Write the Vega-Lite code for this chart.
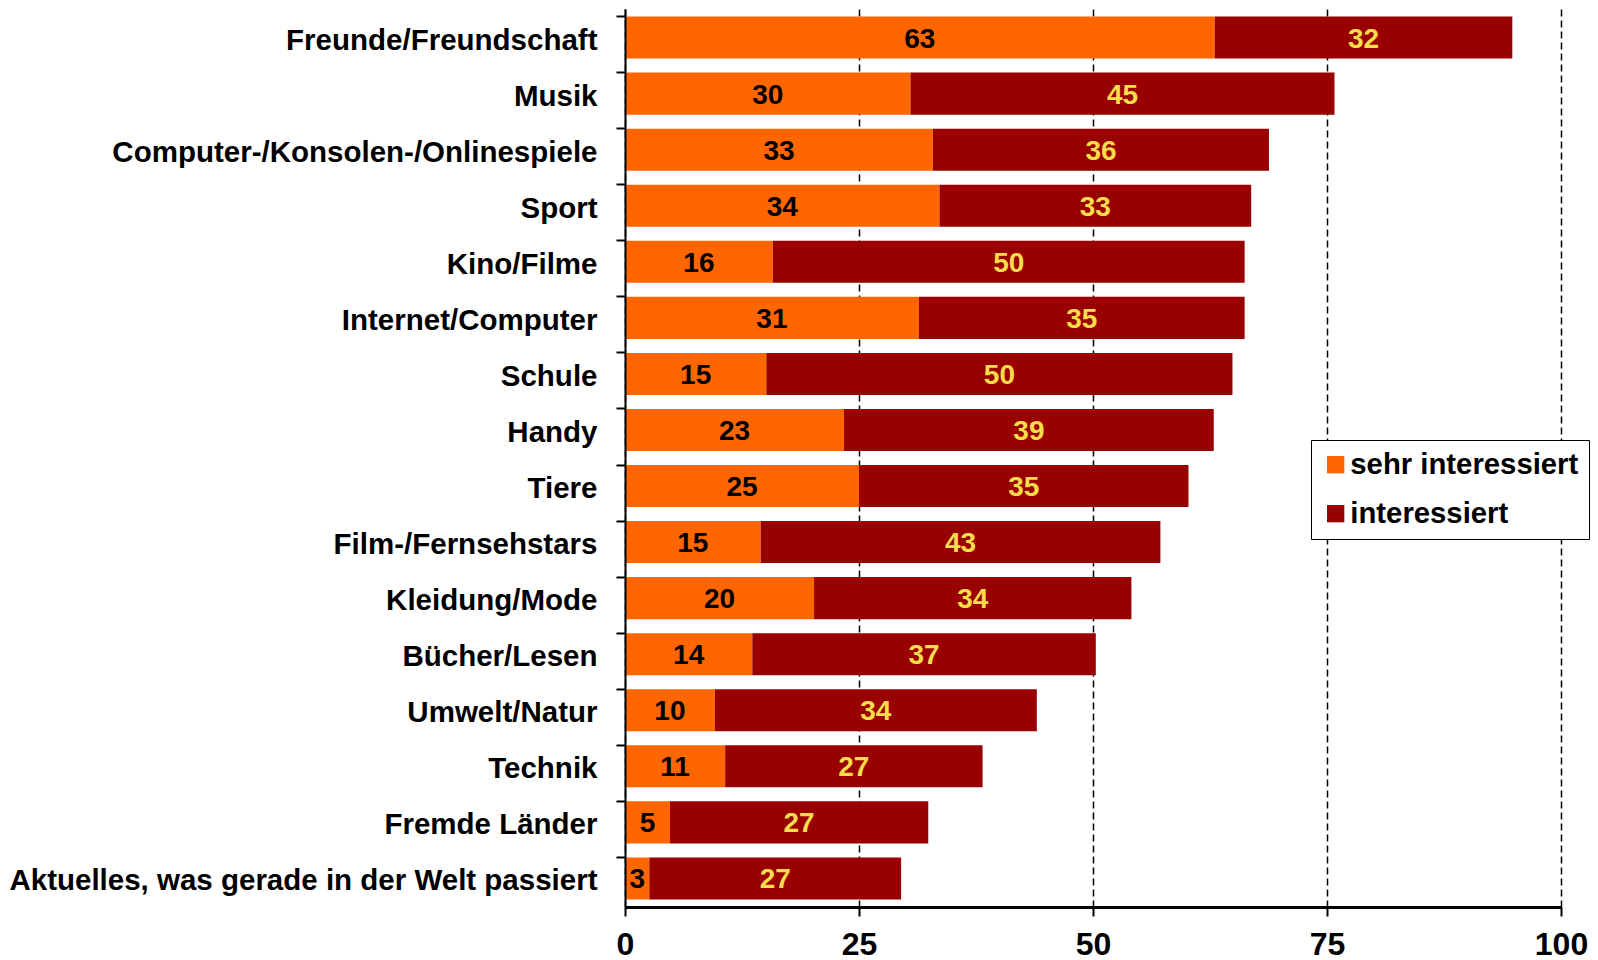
{
  "$schema": "https://vega.github.io/schema/vega-lite/v6.json",
  "width": 936,
  "height": 898,
  "autosize": {"type": "none"},
  "padding": {"left": 625, "top": 9, "right": 37, "bottom": 53},
  "background": "white",
  "config": {
    "view": {"stroke": null},
    "font": "Liberation Sans"
  },
  "data": {
    "values": [
      {"Thema": "Freunde/Freundschaft", "Stufe": "sehr interessiert", "Anteil": 63.0, "Label": 63},
      {"Thema": "Freunde/Freundschaft", "Stufe": "interessiert", "Anteil": 31.8, "Label": 32},
      {"Thema": "Musik", "Stufe": "sehr interessiert", "Anteil": 30.5, "Label": 30},
      {"Thema": "Musik", "Stufe": "interessiert", "Anteil": 45.3, "Label": 45},
      {"Thema": "Computer-/Konsolen-/Onlinespiele", "Stufe": "sehr interessiert", "Anteil": 32.9, "Label": 33},
      {"Thema": "Computer-/Konsolen-/Onlinespiele", "Stufe": "interessiert", "Anteil": 35.9, "Label": 36},
      {"Thema": "Sport", "Stufe": "sehr interessiert", "Anteil": 33.6, "Label": 34},
      {"Thema": "Sport", "Stufe": "interessiert", "Anteil": 33.3, "Label": 33},
      {"Thema": "Kino/Filme", "Stufe": "sehr interessiert", "Anteil": 15.8, "Label": 16},
      {"Thema": "Kino/Filme", "Stufe": "interessiert", "Anteil": 50.4, "Label": 50},
      {"Thema": "Internet/Computer", "Stufe": "sehr interessiert", "Anteil": 31.4, "Label": 31},
      {"Thema": "Internet/Computer", "Stufe": "interessiert", "Anteil": 34.8, "Label": 35},
      {"Thema": "Schule", "Stufe": "sehr interessiert", "Anteil": 15.1, "Label": 15},
      {"Thema": "Schule", "Stufe": "interessiert", "Anteil": 49.8, "Label": 50},
      {"Thema": "Handy", "Stufe": "sehr interessiert", "Anteil": 23.4, "Label": 23},
      {"Thema": "Handy", "Stufe": "interessiert", "Anteil": 39.5, "Label": 39},
      {"Thema": "Tiere", "Stufe": "sehr interessiert", "Anteil": 25.0, "Label": 25},
      {"Thema": "Tiere", "Stufe": "interessiert", "Anteil": 35.2, "Label": 35},
      {"Thema": "Film-/Fernsehstars", "Stufe": "sehr interessiert", "Anteil": 14.5, "Label": 15},
      {"Thema": "Film-/Fernsehstars", "Stufe": "interessiert", "Anteil": 42.7, "Label": 43},
      {"Thema": "Kleidung/Mode", "Stufe": "sehr interessiert", "Anteil": 20.2, "Label": 20},
      {"Thema": "Kleidung/Mode", "Stufe": "interessiert", "Anteil": 33.9, "Label": 34},
      {"Thema": "Bücher/Lesen", "Stufe": "sehr interessiert", "Anteil": 13.6, "Label": 14},
      {"Thema": "Bücher/Lesen", "Stufe": "interessiert", "Anteil": 36.7, "Label": 37},
      {"Thema": "Umwelt/Natur", "Stufe": "sehr interessiert", "Anteil": 9.6, "Label": 10},
      {"Thema": "Umwelt/Natur", "Stufe": "interessiert", "Anteil": 34.4, "Label": 34},
      {"Thema": "Technik", "Stufe": "sehr interessiert", "Anteil": 10.7, "Label": 11},
      {"Thema": "Technik", "Stufe": "interessiert", "Anteil": 27.5, "Label": 27},
      {"Thema": "Fremde Länder", "Stufe": "sehr interessiert", "Anteil": 4.8, "Label": 5},
      {"Thema": "Fremde Länder", "Stufe": "interessiert", "Anteil": 27.6, "Label": 27},
      {"Thema": "Aktuelles, was gerade in der Welt passiert", "Stufe": "sehr interessiert", "Anteil": 2.6, "Label": 3},
      {"Thema": "Aktuelles, was gerade in der Welt passiert", "Stufe": "interessiert", "Anteil": 26.9, "Label": 27}
    ]
  },
  "encoding": {
    "y": {
      "field": "Thema",
      "type": "nominal",
      "sort": null,
      "title": null,
      "scale": {"paddingInner": 0.25, "paddingOuter": 0.135},
      "axis": {
        "bandPosition": 0,
        "zindex": 1,
        "domainColor": "black",
        "domainWidth": 2,
        "tickColor": "black",
        "tickWidth": 2,
        "tickSize": 9,
        "labelFont": "Liberation Sans",
        "labelFontWeight": "bold",
        "labelFontSize": 29.5,
        "labelColor": "black",
        "labelPadding": 19,
        "labelOffset": 3,
        "labelLimit": 700
      }
    }
  },
  "layer": [
    {
      "mark": {"type": "bar"},
      "encoding": {
        "x": {
          "field": "Anteil",
          "type": "quantitative",
          "stack": "zero",
          "title": null,
          "scale": {"domain": [0, 100], "nice": false},
          "axis": {
            "values": [0, 25, 50, 75, 100],
            "domainColor": "black",
            "domainWidth": 3,
            "tickColor": "black",
            "tickWidth": 2,
            "tickSize": 9,
            "labelFont": "Liberation Sans",
            "labelFontWeight": "bold",
            "labelFontSize": 32,
            "labelColor": "black",
            "labelPadding": 13,
            "labelFlush": false,
            "grid": true,
            "gridColor": "black",
            "gridWidth": 1.5,
            "gridDash": [7, 4]
          }
        },
        "color": {
          "field": "Stufe",
          "type": "nominal",
          "title": null,
          "scale": {"domain": ["sehr interessiert", "interessiert"], "range": ["#FF6600", "#990000"]},
          "legend": {
            "orient": "none",
            "legendX": 686,
            "legendY": 431,
            "strokeColor": "black",
            "fillColor": "white",
            "padding": 10,
            "symbolType": "square",
            "symbolSize": 300,
            "symbolStrokeWidth": 0,
            "symbolOpacity": 1,
            "labelFont": "Liberation Sans",
            "labelFontWeight": "bold",
            "labelFontSize": 29.3,
            "labelColor": "black",
            "labelOffset": 0,
            "rowPadding": 19,
            "labelLimit": 400
          }
        },
        "order": {"field": "Stufe", "sort": "descending"}
      }
    },
    {
      "mark": {"type": "text", "font": "Liberation Sans", "fontWeight": "bold", "fontSize": 28, "baseline": "middle", "align": "center", "dy": 2},
      "encoding": {
        "x": {"field": "Anteil", "type": "quantitative", "stack": "zero", "bandPosition": 0.5},
        "text": {"field": "Label", "type": "quantitative"},
        "color": {
          "field": "Stufe",
          "type": "nominal",
          "scale": {"domain": ["sehr interessiert", "interessiert"], "range": ["#000000", "#F8DC4C"]},
          "legend": null
        },
        "order": {"field": "Stufe", "sort": "descending"}
      }
    }
  ],
  "resolve": {"scale": {"color": "independent"}}
}
